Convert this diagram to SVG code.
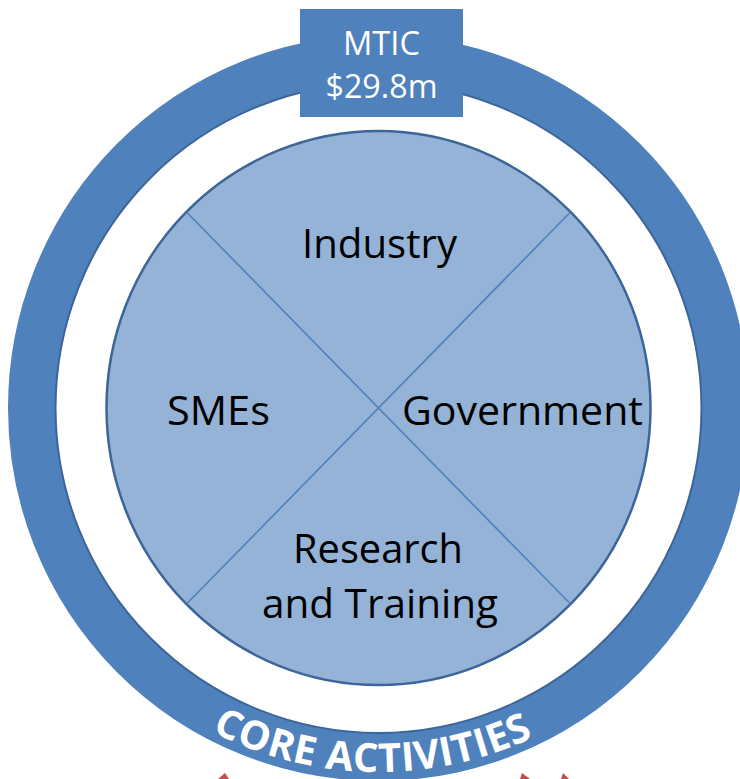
<svg xmlns="http://www.w3.org/2000/svg" width="740" height="779" viewBox="0 0 740 779">
<style>
.ring{fill:none;stroke:#4F81BD;stroke-width:48}
.ringEdge{fill:none;stroke:#3C6699;stroke-width:2}
.core{fill:#95B3D7;stroke:#3C6699;stroke-width:2.5}
.div{stroke:#4F81BD;stroke-width:1.6}
.lbl{font-family:"Open Sans","DejaVu Sans",sans-serif;font-size:41px;fill:#000;text-anchor:start}
.wt{font-family:"Open Sans","DejaVu Sans",sans-serif;fill:#fff}
.arr{fill:#C0504D}
</style>
<defs>
<path id="arcPath" d="M 99.7 642 A 364 364 0 0 0 657.3 642"/>
</defs>
<rect width="740" height="779" fill="#fff"/>
<g id="ring">
<ellipse class="ring" cx="378.5" cy="408" rx="346.5" ry="349"/>
<ellipse class="ringEdge" cx="378.5" cy="408" rx="323" ry="325"/>
<text class="wt" font-size="40" font-weight="bold" letter-spacing="0.5"><textPath href="#arcPath" startOffset="49%" text-anchor="middle">CORE  ACTIVITIES</textPath></text>
</g>
<g id="mtic">
<rect x="300" y="9" width="163" height="108" fill="#4F81BD"/>
<text class="wt" x="381.5" y="55" font-size="33" text-anchor="middle" textLength="77" lengthAdjust="spacingAndGlyphs">MTIC</text>
<text class="wt" x="381.5" y="98" font-size="33" text-anchor="middle" textLength="112" lengthAdjust="spacingAndGlyphs">$29.8m</text>
</g>
<g id="core">
<ellipse class="core" cx="378.5" cy="408" rx="272" ry="277"/>
</g>
<g id="connectors">
<line class="div" x1="186.5" y1="212" x2="570.5" y2="604"/>
<line class="div" x1="570.5" y1="212" x2="186.5" y2="604"/>
</g>
<g id="industry"><text class="lbl" x="302" y="258" textLength="155" lengthAdjust="spacingAndGlyphs">Industry</text></g>
<g id="smes"><text class="lbl" x="167" y="425" textLength="103" lengthAdjust="spacingAndGlyphs">SMEs</text></g>
<g id="government"><text class="lbl" x="402" y="425" textLength="241" lengthAdjust="spacingAndGlyphs">Government</text></g>
<g id="research"><text class="lbl" x="293" y="563" textLength="170" lengthAdjust="spacingAndGlyphs">Research</text>
<text class="lbl" x="262" y="618" textLength="236" lengthAdjust="spacingAndGlyphs">and Training</text></g>
<g id="arrows">
<polygon class="arr" points="225,773 229,779 218,779"/>
<polygon class="arr" points="522,773 530,779 520,779"/>
<polygon class="arr" points="563,773 569,779 561,779"/>
</g>
</svg>
